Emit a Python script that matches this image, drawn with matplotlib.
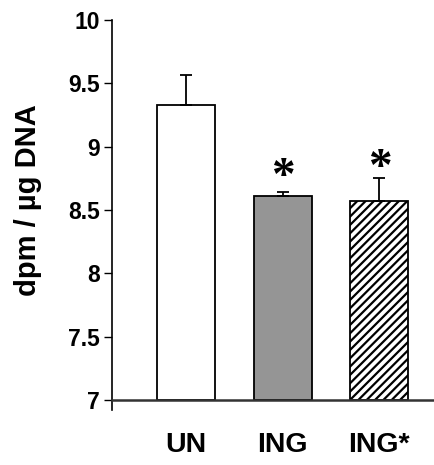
import matplotlib
matplotlib.use("Agg")
import matplotlib.pyplot as plt

categories = ["UN", "ING", "ING*"]
means = [9.33, 8.61, 8.57]
sems = [0.235, 0.03, 0.18]
star_y = [None, 8.83, 8.90]
yticks = [7, 7.5, 8, 8.5, 9, 9.5, 10]
ytick_labels = ["7", "7.5", "8", "8.5", "9", "9.5", "10"]

plt.rcParams['font.family'] = ['Liberation Sans', 'DejaVu Sans']
plt.rcParams['hatch.linewidth'] = 1.6

W, H = 435, 465
fig = plt.figure(figsize=(W / 100, H / 100), dpi=100)
ax = fig.add_axes([112 / W, 1 - 410 / H, (435 - 112) / W, (410 - 20) / H])

x = list(range(len(categories)))
faces = ["white", "#959595", "white"]
hatches = [None, None, "////"]
for xi, m, f, h in zip(x, means, faces, hatches):
    ax.bar(xi, m - 7, bottom=7, width=0.6, facecolor=f, edgecolor="black",
           linewidth=1.3, hatch=h, zorder=2)
ax.errorbar(x, means, yerr=[[0] * len(sems), sems], fmt="none", ecolor="black",
            elinewidth=1.3, capsize=4, capthick=1.3, zorder=3)

for xi, sy in zip(x, star_y):
    if sy is not None:
        ax.annotate("*", xy=(xi, sy), xytext=(0, -21), textcoords="offset pixels",
                    ha="center", va="baseline", fontsize=34, fontweight="bold",
                    family=["Liberation Serif", "DejaVu Serif"], color="black")

ax.set_ylim(6.92, 10.0)
ax.set_xlim(-0.767, 2.575)
ax.set_yticks(yticks)
ax.set_yticklabels(ytick_labels, fontsize=16.5, fontweight="bold")
ax.tick_params(axis="y", direction="out", length=5.8, width=1, pad=3)
ax.set_xticks(x)
ax.set_xticklabels(categories, fontsize=20.5, fontweight="bold")
ax.tick_params(axis="x", length=0, pad=16)
for sp in ["top", "right", "bottom"]:
    ax.spines[sp].set_visible(False)
ax.spines["left"].set_linewidth(1.2)
ax.axhline(7, color="#333333", linewidth=1.8, zorder=4, clip_on=False)
ax.set_ylabel("dpm / µg DNA", fontsize=21, fontweight="bold")
ax.yaxis.set_label_coords(-0.217, 0.538)

fig.savefig("out.png", dpi=100)
